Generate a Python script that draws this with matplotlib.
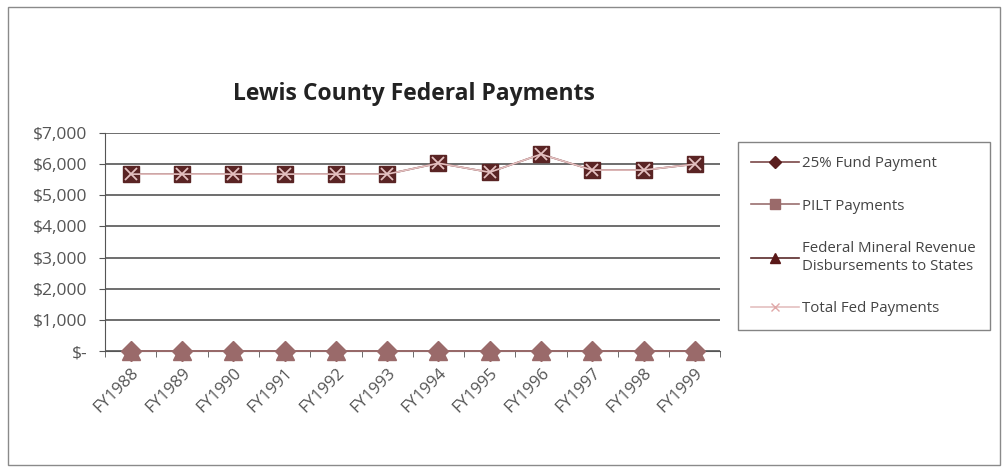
import matplotlib.pyplot as plt
from matplotlib.lines import Line2D
from matplotlib.patches import Rectangle

# data kategori dan nilai (dalam dolar)
years = ['FY1988', 'FY1989', 'FY1990', 'FY1991', 'FY1992', 'FY1993',
         'FY1994', 'FY1995', 'FY1996', 'FY1997', 'FY1998', 'FY1999']
fund25 = [0, 0, 0, 0, 0, 0, 0, 0, 0, 0, 0, 0]
pilt = [5680, 5680, 5680, 5680, 5680, 5680, 6030, 5740, 6320, 5810, 5810, 6000]
mineral = [0, 0, 0, 0, 0, 0, 0, 0, 0, 0, 0, 0]
total = [5680, 5680, 5680, 5680, 5680, 5680, 6030, 5740, 6320, 5810, 5810, 6000]
yticks = [0, 1000, 2000, 3000, 4000, 5000, 6000, 7000]
ylabels = ['$-', '$1,000', '$2,000', '$3,000', '$4,000', '$5,000', '$6,000', '$7,000']

plt.rcParams['font.family'] = ['Open Sans', 'DejaVu Sans']

fig = plt.figure(figsize=(10.02, 4.70), dpi=100)
# bingkai luar grafik
fig.patches.append(Rectangle((0.008, 0.01), 0.99, 0.975, transform=fig.transFigure,
                             fill=False, edgecolor='#8a8a8a', linewidth=1.0))

ax = fig.add_axes([0.105, 0.253, 0.614, 0.464])
x = list(range(len(years)))

ax.plot(x, fund25, color='#9a6a6a', linewidth=1.2, marker='D', markersize=10,
        markerfacecolor='#9a6a6a', markeredgecolor='#9a6a6a', zorder=3, clip_on=False)
ax.plot(x, mineral, color='#9a6a6a', linewidth=1.2, marker='^', markersize=13,
        markerfacecolor='#9a6a6a', markeredgecolor='#9a6a6a', zorder=4, clip_on=False)
ax.plot(x, pilt, color='#6a3030', linewidth=1.2, marker='s', markersize=12,
        markerfacecolor='#5a2424', markeredgecolor='#5a2424', zorder=3)
ax.plot(x, total, color='#e4c0c0', linewidth=1.2, marker='x', markersize=9,
        markeredgewidth=1.3, zorder=4)

ax.set_xlim(-0.5, len(years) - 0.5)
ax.set_ylim(0, 7000)
ax.set_yticks(yticks)
ax.set_yticklabels(ylabels, fontsize=12.5, color='#555555')
ax.set_xticks(x)
ax.set_xticklabels(years, rotation=45, ha='right', rotation_mode='anchor',
                   fontsize=12, color='#555555')
ax.tick_params(axis='x', length=0, pad=10)
ax.set_xticks([i - 0.5 for i in range(len(years) + 1)], minor=True)
ax.tick_params(axis='x', which='minor', length=4, color='#555555')
ax.tick_params(axis='y', length=4, color='#555555', pad=9)

ax.grid(axis='y', color='#555555', linewidth=1.2)
ax.set_axisbelow(True)
for side in ['top', 'right']:
    ax.spines[side].set_visible(False)
ax.spines['left'].set_color('#555555')
ax.spines['bottom'].set_color('#555555')

fig.text(0.413, 0.80, 'Lewis County Federal Payments', ha='center', va='center',
         fontsize=16.5, fontweight='bold', color='#222222')

# legenda dengan warna simbol seperti pada kotak legenda
handles = [
    Line2D([], [], color='#7a4848', linewidth=1.2, marker='D', markersize=6,
           markerfacecolor='#5a1e1e', markeredgecolor='#5a1e1e'),
    Line2D([], [], color='#9a7070', linewidth=1.2, marker='s', markersize=7,
           markerfacecolor='#9a6a6a', markeredgecolor='#9a6a6a'),
    Line2D([], [], color='#5a2a2a', linewidth=1.2, marker='^', markersize=7,
           markerfacecolor='#5a1818', markeredgecolor='#5a1818'),
    Line2D([], [], color='#e4c0c0', linewidth=1.2, marker='x', markersize=6,
           markeredgecolor='#e0a8a8'),
]
labels = ['25% Fund Payment', 'PILT Payments',
          'Federal Mineral Revenue\nDisbursements to States', 'Total Fed Payments']
leg = fig.legend(handles, labels, loc='upper left', bbox_to_anchor=(0.729, 0.713),
                 fontsize=10.8, frameon=True, fancybox=False, labelspacing=1.85,
                 handlelength=3.2, handletextpad=0.2, borderpad=0.9,
                 edgecolor='#666666', labelcolor='#444444')
leg.get_frame().set_linewidth(1.0)

plt.savefig('out.png', dpi=100)
